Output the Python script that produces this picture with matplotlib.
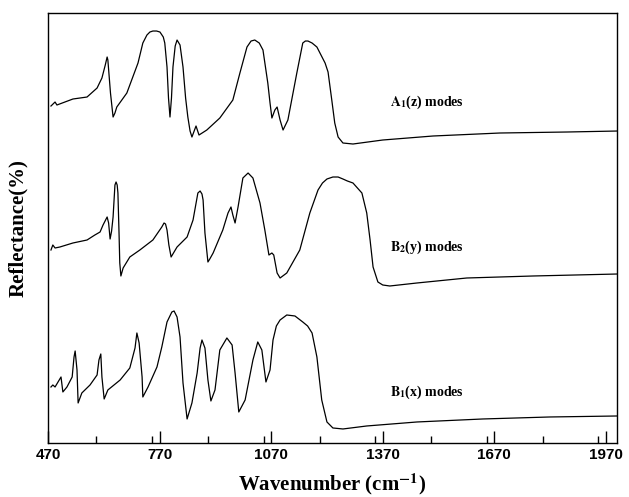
import matplotlib
matplotlib.use("Agg")
import matplotlib.pyplot as plt
from matplotlib.ticker import MultipleLocator

# wavenumber (cm-1) and reflectance (arbitrary, offset)
a1_wn = [478, 489, 494, 537, 575, 602, 615, 624, 629, 631, 638, 645, 650, 655, 682, 712,
         725, 736, 744, 752, 762, 771, 780, 784, 790, 794, 798, 802, 806, 812, 817, 825,
         833, 840, 846, 852, 857, 862, 868, 876, 897, 932, 967, 986, 1005, 1016, 1026,
         1038, 1048, 1061, 1067, 1072, 1080, 1086, 1094, 1102, 1115, 1139, 1155, 1162,
         1169, 1180, 1193, 1215, 1223, 1233, 1241, 1250, 1263, 1290, 1370, 1505, 1685,
         1865, 2002]
a1_r = [337, 341, 338, 344, 346, 355, 365, 378, 386, 383, 350, 326, 330, 336, 350, 380,
        400, 408, 411, 412, 412, 411, 406, 400, 376, 345, 326, 345, 376, 397, 403, 398,
        376, 345, 326, 312, 306, 311, 317, 308, 313, 325, 343, 370, 396, 402, 403,
        400, 393, 360, 340, 325, 333, 336, 323, 313, 323, 370, 400, 402,
        402, 400, 396, 380, 371, 343, 320, 306, 300, 299, 303, 307, 310,
        311, 312]

b2_wn = [478, 483, 489, 502, 537, 575, 596, 610, 618, 629, 633, 637, 641, 645, 650, 653,
         656, 658, 661, 663, 666, 672, 690, 717, 752, 776, 782, 786, 790, 795, 801, 817,
         844, 860, 873, 879, 884, 887, 892, 900, 905, 914, 940, 954, 962, 967, 973, 981,
         994, 1008, 1021, 1040, 1053, 1064, 1072, 1077, 1086, 1094, 1112, 1147, 1174,
         1196, 1208, 1220, 1236, 1250, 1263, 1275, 1290, 1314, 1327, 1336, 1344, 1357,
         1370, 1389, 1462, 1596, 1774, 2002]
b2_r = [193, 198, 195, 196, 200, 203, 208, 211, 218, 226, 220, 204, 212, 226, 258, 261,
        258, 250, 210, 180, 167, 175, 186, 193, 203, 216, 220, 219, 213, 198, 186, 196,
        206, 223, 250, 252, 249, 243, 210, 181, 184, 190, 213, 230, 236, 228, 220, 236,
        265, 270, 265, 240, 213, 188, 190, 188, 170, 165, 170, 193, 230,
        253, 260, 264, 266, 266, 264, 262, 260, 250, 230, 203, 176, 161,
        158, 157, 160, 165, 167, 169]

b1_wn = [478, 483, 489, 497, 505, 510, 521, 535, 540, 543, 548, 551, 561, 583, 602, 607,
         612, 615, 621, 631, 664, 690, 704, 709, 715, 723, 725, 739, 763, 776, 790, 803,
         809, 817, 825, 833, 844, 857, 871, 879, 884, 892, 900, 908, 919, 932, 951, 965,
         973, 983, 1000, 1021, 1034, 1045, 1056, 1067, 1075, 1084, 1094, 1112, 1134,
         1155, 1168, 1180, 1193, 1206, 1220, 1236, 1263, 1327, 1462, 1639, 1819, 2002]
b1_r = [56, 58, 56, 61, 66, 51, 56, 66, 86, 92, 73, 40, 50, 58, 68, 83,
        89, 66, 44, 53, 63, 75, 95, 110, 100, 66, 46, 56, 76, 96, 121, 131,
        132, 126, 106, 60, 24, 40, 70, 95, 103, 95, 63, 42, 53, 93, 105, 98,
        70, 31, 43, 83, 101, 93, 61, 73, 103, 117, 123, 128, 127,
        121, 117, 110, 86, 43, 21, 15, 14, 17, 21, 24, 26, 27]

labels = [r"$\mathbf{A}_{\mathbf{1}}$(z) modes", r"$\mathbf{B}_{\mathbf{2}}$(y) modes",
          r"$\mathbf{B}_{\mathbf{1}}$(x) modes"]
label_y = [337, 192, 47]

plt.rcParams["mathtext.fontset"] = "stix"

fig = plt.figure(figsize=(6.29, 4.97), dpi=100)
ax = fig.add_axes([0.0763, 0.1087, 0.9047, 0.8651])

for wn, r in [(a1_wn, a1_r), (b2_wn, b2_r), (b1_wn, b1_r)]:
    ax.plot(wn, r, color="black", lw=0.9)

for lab, y in zip(labels, label_y):
    ax.text(1390, y, lab, family="Liberation Serif", fontweight="bold", fontsize=10)

ax.set_xlim(470, 2000)
ax.set_ylim(0, 430)
ax.xaxis.set_minor_locator(MultipleLocator(150))
ax.set_xticks([470, 770, 1070, 1370, 1670, 1970])
ax.set_yticks([])
ax.tick_params(axis="x", which="major", direction="in", length=9, width=1)
ax.tick_params(axis="x", which="minor", direction="in", length=5, width=1)
for lab in ax.get_xticklabels():
    lab.set_family("Liberation Sans")
    lab.set_fontweight("bold")
    lab.set_fontsize(11)
for s in ax.spines.values():
    s.set_linewidth(1)

ax.set_xlabel(r"Wavenumber (cm$^{\mathbf{-1}}$)", family="Liberation Serif",
              fontweight="bold", fontsize=15, labelpad=7)
ax.set_ylabel("Reflectance(%)", family="Liberation Serif", fontweight="bold",
              fontsize=15, labelpad=14)

fig.savefig("out.png", dpi=100)
